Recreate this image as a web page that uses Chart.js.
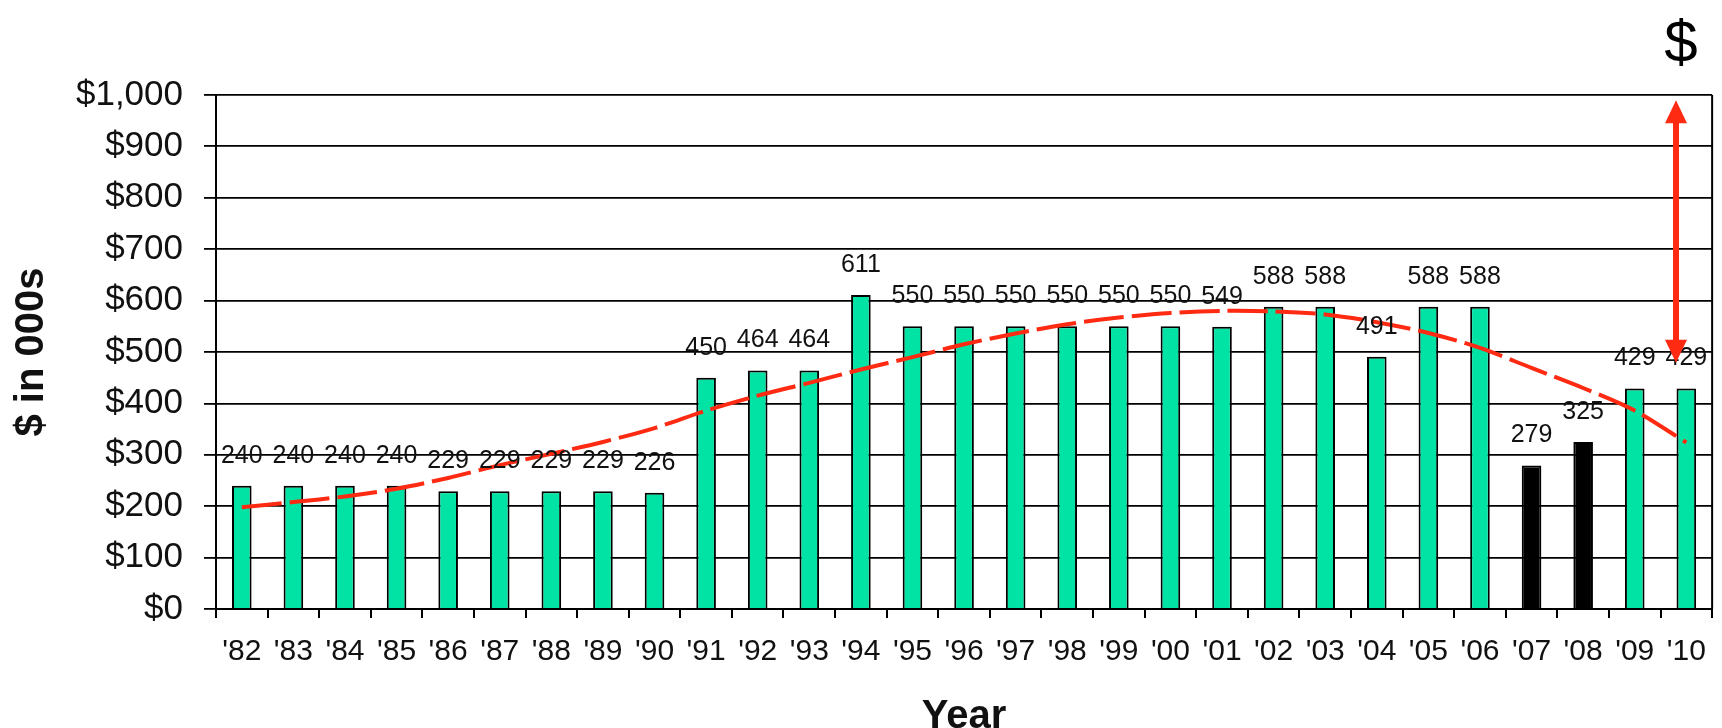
<!DOCTYPE html>
<html>
<head>
<meta charset="utf-8">
<script src="https://cdn.jsdelivr.net/npm/chart.js@4.4.1/dist/chart.umd.min.js"></script>
<style>
  html, body { margin: 0; padding: 0; background: #fff; }
  #wrap { width: 1722px; height: 728px; }
</style>
</head>
<body>
<div id="wrap"><canvas id="chart"></canvas></div>
<script>
const years = ["'82", "'83", "'84", "'85", "'86", "'87", "'88", "'89", "'90", "'91",
               "'92", "'93", "'94", "'95", "'96", "'97", "'98", "'99", "'00", "'01",
               "'02", "'03", "'04", "'05", "'06", "'07", "'08", "'09", "'10"];

const values = [240, 240, 240, 240, 229, 229, 229, 229, 226, 450,
                464, 464, 611, 550, 550, 550, 550, 550, 550, 549,
                588, 588, 491, 588, 588, 279, 325, 429, 429];

// trend line
const trend  = [198, 208, 219, 234, 255, 280, 302, 325, 352, 386,
                415, 440, 466, 490, 515, 536, 554, 567, 576, 580,
                579, 573, 558, 537, 508, 469, 430, 386, 324];

const darkYears = ["'07", "'08"];
const yTicks = [0, 100, 200, 300, 400, 500, 600, 700, 800, 900, 1000];

// double arrow at the right: position between '09 and '10, from / to values
const arrowAt     = 27.8;
const arrowTop    = 990;
const arrowBottom = 479;

const FONT = "'Liberation Sans', Arial, sans-serif";
const GREEN = "#00E3A4";
const RED   = "#FF2A12";

const barColors = years.map(y => darkYears.includes(y) ? "#000000" : GREEN);

// --- value labels over the bars ---
const barLabels = {
  id: "barLabels",
  afterDatasetsDraw(chart) {
    const ctx  = chart.ctx;
    const meta = chart.getDatasetMeta(0);
    ctx.save();
    ctx.font = "25px " + FONT;
    ctx.fillStyle = "#111";
    ctx.textAlign = "center";
    ctx.textBaseline = "middle";
    meta.data.forEach((bar, i) => {
      ctx.fillText(String(values[i]), bar.x, bar.y - 30);
    });
    ctx.restore();
  }
};

// --- right border, "$" and the red arrow ---
const extras = {
  id: "extras",
  afterDraw(chart) {
    const ctx = chart.ctx;
    const { top, bottom, right } = chart.chartArea;
    const x = chart.scales.x, y = chart.scales.y;

    ctx.save();
    ctx.strokeStyle = "#000";
    ctx.lineWidth = 2;
    ctx.beginPath();
    ctx.moveTo(right, top);
    ctx.lineTo(right, bottom);
    ctx.stroke();

    const p0 = x.getPixelForValue(Math.floor(arrowAt));
    const p1 = x.getPixelForValue(Math.ceil(arrowAt));
    const ax = p0 + (p1 - p0) * (arrowAt - Math.floor(arrowAt));
    const yT = y.getPixelForValue(arrowTop);
    const yB = y.getPixelForValue(arrowBottom);
    const head = 23, half = 11;

    ctx.strokeStyle = RED;
    ctx.fillStyle = RED;
    ctx.lineWidth = 6;
    ctx.beginPath();
    ctx.moveTo(ax, yT + head - 2);
    ctx.lineTo(ax, yB - head + 2);
    ctx.stroke();

    ctx.beginPath();
    ctx.moveTo(ax, yT);
    ctx.lineTo(ax - half, yT + head);
    ctx.lineTo(ax + half, yT + head);
    ctx.closePath();
    ctx.fill();

    ctx.beginPath();
    ctx.moveTo(ax, yB);
    ctx.lineTo(ax - half, yB - head);
    ctx.lineTo(ax + half, yB - head);
    ctx.closePath();
    ctx.fill();

    ctx.fillStyle = "#000";
    ctx.font = "60px " + FONT;
    ctx.textAlign = "center";
    ctx.textBaseline = "middle";
    ctx.fillText("$", ax + 5, 45);
    ctx.restore();
  }
};

new Chart(document.getElementById("chart"), {
  data: {
    labels: years,
    datasets: [
      {
        type: "bar",
        data: values,
        backgroundColor: barColors,
        borderColor: "#000",
        borderWidth: 2,
        barPercentage: 0.76,
        categoryPercentage: 0.5,
        order: 2
      },
      {
        type: "line",
        data: trend,
        borderColor: RED,
        borderWidth: 4,
        borderDash: [40, 8],
        pointRadius: 0,
        tension: 0.3,
        fill: false,
        order: 1
      }
    ]
  },
  options: {
    responsive: true,
    maintainAspectRatio: false,
    animation: false,
    devicePixelRatio: 1,
    layout: { padding: { top: 95, right: 7, bottom: 0, left: 0 } },
    plugins: {
      legend: { display: false },
      tooltip: { enabled: false }
    },
    scales: {
      x: {
        type: "category",
        offset: true,
        grid: {
          offset: true,
          drawOnChartArea: false,
          color: "#000",
          lineWidth: 2,
          tickLength: 9
        },
        border: { color: "#000", width: 2 },
        ticks: {
          color: "#111",
          font: { family: FONT, size: 30 },
          padding: 16,
          maxRotation: 0,
          autoSkip: false
        },
        title: {
          display: true,
          text: "Year",
          color: "#111",
          font: { family: FONT, size: 40, weight: "bold", lineHeight: 0.55 },
          padding: 0
        },
        afterFit(scale) { scale.height = 119; }
      },
      y: {
        min: 0,
        max: 1000,
        afterBuildTicks(scale) { scale.ticks = yTicks.map(v => ({ value: v })); },
        grid: {
          color: "#000",
          lineWidth: 1.8,
          tickLength: 12
        },
        border: { color: "#000", width: 2 },
        ticks: {
          color: "#111",
          font: { family: FONT, size: 35 },
          padding: 21,
          callback: v => "$" + v.toLocaleString("en-US")
        },
        title: {
          display: true,
          text: "$ in 000s",
          color: "#111",
          font: { family: FONT, size: 40, weight: "bold", lineHeight: 1.2 },
          padding: { top: 8, bottom: 0 }
        },
        afterFit(scale) { scale.width = 216; }
      }
    }
  },
  plugins: [barLabels, extras]
});
</script>
</body>
</html>
